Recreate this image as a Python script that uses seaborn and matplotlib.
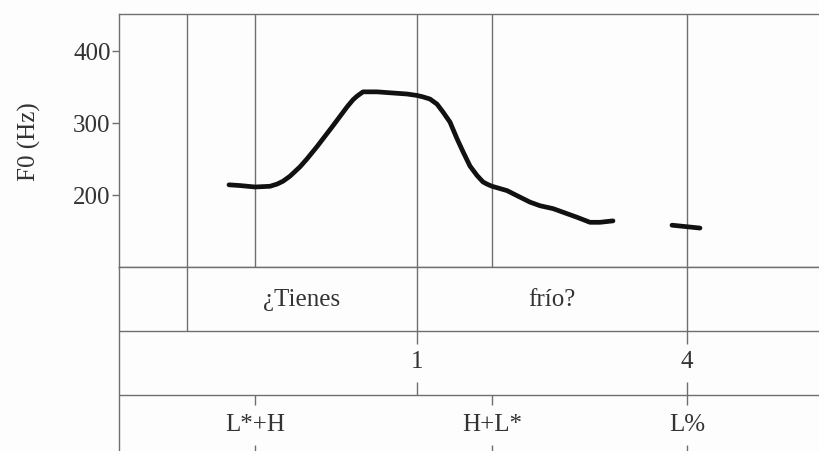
import matplotlib
matplotlib.use("Agg")
import matplotlib.pyplot as plt
import numpy as np
import pandas as pd
import seaborn as sns

# F0 contour (time in ms, F0 in Hz), two voiced stretches
seg1_time = [220, 242, 272, 302, 316, 328, 342, 362, 376, 396, 428, 456, 468, 476,
             488, 502, 516, 536, 556, 576, 596, 608, 622, 636, 648, 662, 676, 688,
             702, 716, 728, 736, 746, 776, 796, 822, 842, 868, 888, 916, 942, 962, 988]
seg1_f0 = [214, 213, 211, 212, 215, 219, 226, 239, 250, 267, 296, 322, 332, 337,
           343, 343, 343, 342, 341, 340, 338, 336, 333, 326, 315, 301, 278, 260,
           240, 227, 218, 215, 212, 206, 199, 190, 185, 181, 176, 169, 162, 162, 164]
seg2_time = [1106, 1134, 1162]
seg2_f0 = [158, 156, 154]

# Annotation tiers
segment_bounds = [136, 272, 596, 746, 1136]
word_bounds = [136, 596, 1136]
words = ["¿Tienes", "frío?"]
word_centers = [366, 866]
break_times = [596, 1136]
break_labels = ["1", "4"]
tone_times = [272, 746, 1136]
tone_labels = ["L*+H", "H+L*", "L%"]

y_ticks = [200, 300, 400]
x_range = (0, 1400)
y_range = (100, 451)

df = pd.DataFrame({
    "time": seg1_time + seg2_time,
    "f0": seg1_f0 + seg2_f0,
    "segment": ["a"] * len(seg1_time) + ["b"] * len(seg2_time),
})

sns.set_theme(style="ticks")
plt.rcParams["font.family"] = ["Liberation Serif", "DejaVu Serif"]

BG = "#fdfdfd"
GRID = "#6f6f6f"
TXT = "#333333"
W, H = 819, 452
fig = plt.figure(figsize=(W / 100, H / 100), dpi=100, facecolor=BG)
ax = fig.add_axes([119 / W, (H - 268) / H, 1 - 119 / W, (268 - 15) / H], facecolor=BG)
tiers = fig.add_axes([119 / W, 0, 1 - 119 / W, (H - 268) / H], facecolor=BG, sharex=ax)

# Pitch panel
for xb in segment_bounds:
    ax.axvline(xb, color=GRID, lw=1.0, zorder=1)
sns.lineplot(data=df, x="time", y="f0", units="segment", estimator=None,
             color="#111111", lw=3.4, ax=ax, zorder=3,
             solid_capstyle="round", solid_joinstyle="round")
ax.set_xlim(*x_range)
ax.set_ylim(*y_range)
ax.set_yticks(y_ticks)
ax.set_xlabel("")
ax.set_ylabel("F0 (Hz)", fontsize=18, color=TXT)
ax.yaxis.set_label_coords(-0.112, 0.5)
ax.tick_params(axis="y", direction="out", length=5, width=1, color=GRID,
               labelsize=18, labelcolor=TXT, pad=1)
ax.tick_params(axis="x", length=0, labelbottom=False)
for side in ["left", "top", "bottom"]:
    ax.spines[side].set_color(GRID)
    ax.spines[side].set_linewidth(1.0)
ax.spines["right"].set_visible(False)

# Tiers: words, break indices, tones
tiers.set_ylim(2.875, 0)
tiers.axhline(1, color=GRID, lw=1.0)
tiers.axhline(2, color=GRID, lw=1.0)
tiers.vlines(word_bounds, 0, 1, color=GRID, lw=1.0)
for w, c in zip(words, word_centers):
    tiers.text(c, 0.5, w, ha="center", va="center", fontsize=18, color=TXT)
tiers.vlines(break_times, 1, 1.2, color=GRID, lw=1.0)
tiers.vlines(break_times, 1.8, 2, color=GRID, lw=1.0)
for b, t in zip(break_labels, break_times):
    tiers.text(t, 1.47, b, ha="center", va="center", fontsize=18, color=TXT)
tiers.vlines(tone_times, 2, 2.16, color=GRID, lw=1.0)
tiers.vlines(tone_times, 2.78, 2.875, color=GRID, lw=1.0)
for lab, t in zip(tone_labels, tone_times):
    tiers.text(t, 2.45, lab, ha="center", va="center", fontsize=18, color=TXT)
tiers.set_xticks([])
tiers.set_yticks([])
tiers.set_xlabel("")
for side in ["right", "bottom"]:
    tiers.spines[side].set_visible(False)
for side in ["left", "top"]:
    tiers.spines[side].set_color(GRID)
    tiers.spines[side].set_linewidth(1.0)

fig.savefig("out.png", dpi=100, facecolor=BG)
